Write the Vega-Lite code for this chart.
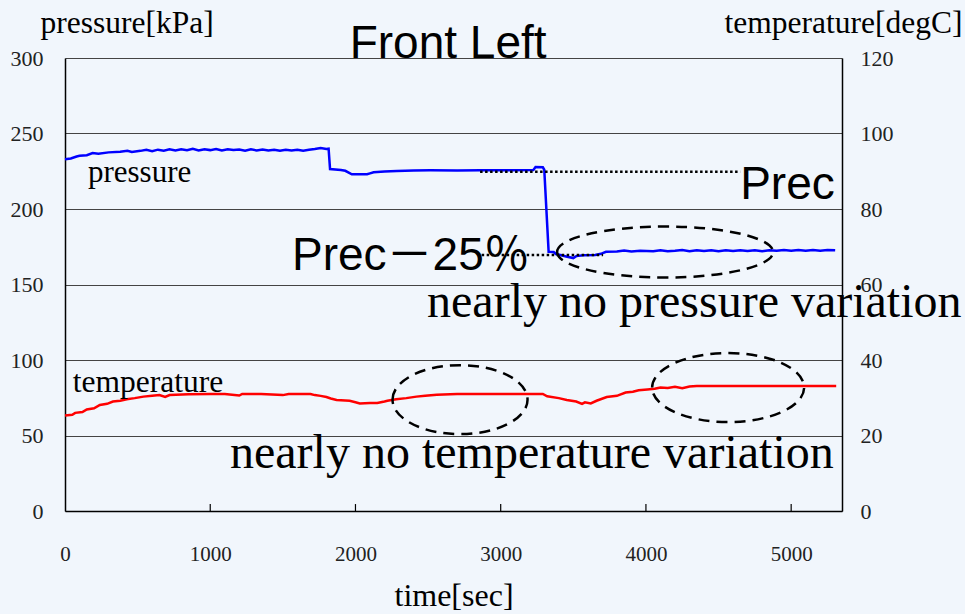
{
  "$schema": "https://vega.github.io/schema/vega-lite/v6.json",
  "width": 777,
  "height": 453,
  "autosize": "none",
  "padding": {"left": 65, "top": 58, "right": 123, "bottom": 103},
  "background": "#f1f6fc",
  "config": {"view": {"stroke": null}, "font": "Liberation Serif"},
  "datasets": {
    "pressure": [
      {"time": 0, "pressure": 233.0}, {"time": 40, "pressure": 233.5}, {"time": 80, "pressure": 234.8},
      {"time": 100, "pressure": 235.3}, {"time": 150, "pressure": 235.6}, {"time": 190, "pressure": 237.0},
      {"time": 230, "pressure": 236.6}, {"time": 300, "pressure": 237.5}, {"time": 380, "pressure": 237.9},
      {"time": 430, "pressure": 238.6}, {"time": 460, "pressure": 237.8}, {"time": 520, "pressure": 238.5},
      {"time": 560, "pressure": 239.2}, {"time": 600, "pressure": 238.3}, {"time": 640, "pressure": 239.3},
      {"time": 680, "pressure": 238.6}, {"time": 720, "pressure": 239.5}, {"time": 760, "pressure": 238.8},
      {"time": 800, "pressure": 239.6}, {"time": 840, "pressure": 238.9}, {"time": 880, "pressure": 239.8},
      {"time": 920, "pressure": 238.7}, {"time": 960, "pressure": 239.6}, {"time": 1000, "pressure": 239.0},
      {"time": 1040, "pressure": 239.7}, {"time": 1080, "pressure": 238.8}, {"time": 1120, "pressure": 239.6},
      {"time": 1160, "pressure": 239.0}, {"time": 1200, "pressure": 239.4}, {"time": 1240, "pressure": 238.6},
      {"time": 1280, "pressure": 239.5}, {"time": 1320, "pressure": 238.8}, {"time": 1360, "pressure": 239.4},
      {"time": 1400, "pressure": 238.7}, {"time": 1440, "pressure": 239.3}, {"time": 1480, "pressure": 238.6},
      {"time": 1520, "pressure": 239.3}, {"time": 1560, "pressure": 238.8}, {"time": 1600, "pressure": 239.3},
      {"time": 1640, "pressure": 238.6}, {"time": 1680, "pressure": 239.2}, {"time": 1720, "pressure": 239.7},
      {"time": 1760, "pressure": 240.4}, {"time": 1800, "pressure": 239.8}, {"time": 1815, "pressure": 240.0},
      {"time": 1825, "pressure": 226.5}, {"time": 1900, "pressure": 225.8}, {"time": 1930, "pressure": 225.3},
      {"time": 1975, "pressure": 223.0}, {"time": 2080, "pressure": 223.0}, {"time": 2100, "pressure": 223.6},
      {"time": 2125, "pressure": 224.3}, {"time": 2200, "pressure": 224.8}, {"time": 2285, "pressure": 225.2},
      {"time": 2400, "pressure": 225.5}, {"time": 2515, "pressure": 225.6}, {"time": 2700, "pressure": 225.5},
      {"time": 2860, "pressure": 225.6}, {"time": 3000, "pressure": 225.7}, {"time": 3225, "pressure": 225.8},
      {"time": 3240, "pressure": 227.8}, {"time": 3290, "pressure": 227.6}, {"time": 3300, "pressure": 226.0},
      {"time": 3330, "pressure": 171.7}, {"time": 3365, "pressure": 171.5}, {"time": 3380, "pressure": 170.2},
      {"time": 3410, "pressure": 169.5}, {"time": 3450, "pressure": 168.6}, {"time": 3500, "pressure": 167.5},
      {"time": 3520, "pressure": 168.8}, {"time": 3570, "pressure": 169.3}, {"time": 3650, "pressure": 169.6},
      {"time": 3690, "pressure": 170.3}, {"time": 3725, "pressure": 171.7}, {"time": 3800, "pressure": 171.8},
      {"time": 3850, "pressure": 172.5}, {"time": 3900, "pressure": 171.9}, {"time": 3960, "pressure": 172.3},
      {"time": 4050, "pressure": 172.0}, {"time": 4100, "pressure": 172.7}, {"time": 4150, "pressure": 172.0},
      {"time": 4200, "pressure": 172.3}, {"time": 4250, "pressure": 172.8}, {"time": 4300, "pressure": 172.1},
      {"time": 4350, "pressure": 172.6}, {"time": 4400, "pressure": 172.2}, {"time": 4450, "pressure": 172.7},
      {"time": 4500, "pressure": 172.1}, {"time": 4550, "pressure": 172.6}, {"time": 4600, "pressure": 172.2},
      {"time": 4650, "pressure": 172.7}, {"time": 4700, "pressure": 172.2}, {"time": 4750, "pressure": 172.6},
      {"time": 4800, "pressure": 172.1}, {"time": 4850, "pressure": 172.7}, {"time": 4900, "pressure": 172.3},
      {"time": 4950, "pressure": 172.8}, {"time": 5000, "pressure": 172.3}, {"time": 5050, "pressure": 172.8},
      {"time": 5100, "pressure": 172.4}, {"time": 5150, "pressure": 172.9}, {"time": 5200, "pressure": 172.4},
      {"time": 5250, "pressure": 172.8}, {"time": 5303, "pressure": 172.6}
    ],
    "temperature": [
      {"time": 0, "temperature": 25.3}, {"time": 50, "temperature": 25.5}, {"time": 70, "temperature": 26.0},
      {"time": 120, "temperature": 26.2}, {"time": 150, "temperature": 26.9}, {"time": 200, "temperature": 27.2},
      {"time": 240, "temperature": 28.1}, {"time": 290, "temperature": 28.4}, {"time": 330, "temperature": 29.0},
      {"time": 380, "temperature": 29.2}, {"time": 425, "temperature": 29.6}, {"time": 480, "temperature": 29.9},
      {"time": 540, "temperature": 30.3}, {"time": 600, "temperature": 30.5}, {"time": 650, "temperature": 30.7},
      {"time": 690, "temperature": 30.2}, {"time": 720, "temperature": 30.7}, {"time": 850, "temperature": 30.9},
      {"time": 1000, "temperature": 31.0}, {"time": 1100, "temperature": 31.0}, {"time": 1200, "temperature": 30.6},
      {"time": 1220, "temperature": 31.0}, {"time": 1350, "temperature": 31.0}, {"time": 1500, "temperature": 30.7},
      {"time": 1540, "temperature": 31.0}, {"time": 1690, "temperature": 31.0}, {"time": 1720, "temperature": 30.7},
      {"time": 1760, "temperature": 30.5}, {"time": 1800, "temperature": 30.2}, {"time": 1830, "temperature": 29.8},
      {"time": 1870, "temperature": 29.4}, {"time": 1960, "temperature": 29.2}, {"time": 2000, "temperature": 28.8},
      {"time": 2030, "temperature": 28.5}, {"time": 2100, "temperature": 28.6}, {"time": 2150, "temperature": 28.6},
      {"time": 2200, "temperature": 29.0}, {"time": 2220, "temperature": 29.2}, {"time": 2280, "temperature": 29.6},
      {"time": 2350, "temperature": 29.9}, {"time": 2420, "temperature": 30.3}, {"time": 2480, "temperature": 30.5},
      {"time": 2560, "temperature": 30.8}, {"time": 2700, "temperature": 31.0}, {"time": 2900, "temperature": 31.0},
      {"time": 3100, "temperature": 31.0}, {"time": 3290, "temperature": 31.0}, {"time": 3320, "temperature": 30.4},
      {"time": 3400, "temperature": 29.9}, {"time": 3455, "temperature": 29.4}, {"time": 3520, "temperature": 29.0},
      {"time": 3560, "temperature": 28.4}, {"time": 3580, "temperature": 28.8}, {"time": 3620, "temperature": 28.5},
      {"time": 3660, "temperature": 29.2}, {"time": 3730, "temperature": 30.2}, {"time": 3800, "temperature": 30.5},
      {"time": 3860, "temperature": 31.4}, {"time": 3910, "temperature": 31.6}, {"time": 3950, "temperature": 32.0},
      {"time": 4010, "temperature": 32.2}, {"time": 4060, "temperature": 32.4}, {"time": 4100, "temperature": 32.7},
      {"time": 4150, "temperature": 32.6}, {"time": 4200, "temperature": 32.9}, {"time": 4250, "temperature": 32.5},
      {"time": 4300, "temperature": 33.0}, {"time": 4350, "temperature": 33.1}, {"time": 4600, "temperature": 33.1},
      {"time": 4900, "temperature": 33.1}, {"time": 5100, "temperature": 33.1}, {"time": 5310, "temperature": 33.1}
    ],
    "refLines": [
      {"label": "Prec", "time": 2858, "time_end": 4649, "pressure": 224.7},
      {"label": "Prec－25％", "time": 2869, "time_end": 3705, "pressure": 169.5}
    ],
    "xTicks": [{"time": 1000}, {"time": 2000}, {"time": 3000}, {"time": 4000}, {"time": 5000}]
  },
  "layer": [
    {
      "layer": [
        {
          "data": {"name": "pressure"},
          "mark": {"type": "line", "color": "#0000ff", "strokeWidth": 2.5},
          "encoding": {
            "x": {"field": "time", "type": "quantitative",
              "scale": {"domain": [0, 5350], "nice": false, "zero": false},
              "axis": {"title": "time[sec]", "values": [0, 1000, 2000, 3000, 4000, 5000], "format": "d",
                "grid": false, "domainColor": "#000", "domainWidth": 1.5, "ticks": false,
                "labelFlush": false, "labelPadding": 32, "labelFontSize": 21, "labelFont": "Liberation Serif", "labelColor": "#222",
                "titleFontSize": 32, "titleFont": "Liberation Serif", "titleFontWeight": "normal", "titleColor": "#000",
                "titleBaseline": "alphabetic", "titleY": 94}},
            "y": {"field": "pressure", "type": "quantitative",
              "scale": {"domain": [0, 300], "nice": false, "zero": true},
              "axis": {"orient": "left", "title": "pressure[kPa]", "values": [0, 50, 100, 150, 200, 250, 300],
                "grid": true, "gridColor": "#444", "gridWidth": 1, "ticks": false, "domainColor": "#000", "domainWidth": 1.5,
                "labelPadding": 22, "labelFontSize": 22, "labelFont": "Liberation Serif", "labelColor": "#222",
                "titleAngle": 0, "titleAlign": "left", "titleBaseline": "alphabetic", "titleX": -25, "titleY": -26,
                "titleFontSize": 31.5, "titleFont": "Liberation Serif", "titleFontWeight": "normal", "titleColor": "#000"}}
          }
        },
        {
          "data": {"name": "xTicks"},
          "mark": {"type": "rule", "color": "#000", "strokeWidth": 1.2},
          "encoding": {
            "x": {"field": "time", "type": "quantitative"},
            "y": {"datum": 0, "type": "quantitative", "scale": {"domain": [0, 300]}},
            "y2": {"datum": 4.6}
          }
        },
        {
          "data": {"name": "refLines"},
          "mark": {"type": "rule", "color": "#000", "strokeWidth": 2.5, "strokeDash": [2.5, 2.5]},
          "encoding": {
            "x": {"field": "time", "type": "quantitative"},
            "x2": {"field": "time_end"},
            "y": {"field": "pressure", "type": "quantitative", "scale": {"domain": [0, 300]}}
          }
        },
        {
          "data": {"values": [{"time": 4132, "pressure": 171.5}]},
          "mark": {"type": "point", "shape": "M-1,0A1,0.236,0,1,1,1,0A1,0.236,0,1,1,-1,0Z", "size": 46656,
            "filled": false, "stroke": "#000", "strokeWidth": 2.5, "strokeDash": [11, 7], "opacity": 1},
          "encoding": {
            "x": {"field": "time", "type": "quantitative"},
            "y": {"field": "pressure", "type": "quantitative", "scale": {"domain": [0, 300]}}
          }
        },
        {
          "data": {"values": [{"text": "pressure", "time": 158, "pressure": 218.1}]},
          "mark": {"type": "text", "font": "Liberation Serif", "fontSize": 31, "align": "left", "baseline": "alphabetic", "color": "#000"},
          "encoding": {
            "x": {"field": "time", "type": "quantitative"},
            "y": {"field": "pressure", "type": "quantitative", "scale": {"domain": [0, 300]}},
            "text": {"field": "text"}
          }
        },
        {
          "data": {"values": [{"text": "nearly no pressure variation", "time": 2493, "pressure": 128.5}]},
          "mark": {"type": "text", "font": "Liberation Serif", "fontSize": 48, "align": "left", "baseline": "alphabetic", "color": "#000"},
          "encoding": {
            "x": {"field": "time", "type": "quantitative"},
            "y": {"field": "pressure", "type": "quantitative", "scale": {"domain": [0, 300]}},
            "text": {"field": "text"}
          }
        },
        {
          "data": {"values": [{"text": "Prec", "time": 4649, "pressure": 206.6}, {"text": "Prec－25％", "time": 1563, "pressure": 159.3}]},
          "mark": {"type": "text", "font": "Liberation Sans, Noto Sans CJK JP", "fontSize": 46, "align": "left", "baseline": "alphabetic", "color": "#000"},
          "encoding": {
            "x": {"field": "time", "type": "quantitative"},
            "y": {"field": "pressure", "type": "quantitative", "scale": {"domain": [0, 300]}},
            "text": {"field": "text"}
          }
        },
        {
          "data": {"values": [{"text": "Front Left", "time": 2638, "pressure": 300}]},
          "mark": {"type": "text", "font": "Liberation Sans", "fontSize": 46, "align": "center", "baseline": "alphabetic", "color": "#000"},
          "encoding": {
            "x": {"field": "time", "type": "quantitative"},
            "y": {"field": "pressure", "type": "quantitative", "scale": {"domain": [0, 300]}},
            "text": {"field": "text"}
          }
        }
      ]
    },
    {
      "layer": [
        {
          "data": {"name": "temperature"},
          "mark": {"type": "line", "color": "#ff0000", "strokeWidth": 2.5},
          "encoding": {
            "x": {"field": "time", "type": "quantitative"},
            "y": {"field": "temperature", "type": "quantitative",
              "scale": {"domain": [0, 120], "nice": false, "zero": true},
              "axis": {"orient": "right", "title": "temperature[degC]", "values": [0, 20, 40, 60, 80, 100, 120],
                "grid": false, "ticks": false, "domainColor": "#000", "domainWidth": 1.5,
                "labelPadding": 18, "labelFontSize": 22, "labelFont": "Liberation Serif", "labelColor": "#222",
                "titleAngle": 0, "titleAlign": "right", "titleBaseline": "alphabetic", "titleX": 120, "titleY": -26,
                "titleFontSize": 31.5, "titleFont": "Liberation Serif", "titleFontWeight": "normal", "titleColor": "#000"}}
          }
        },
        {
          "data": {"values": [{"time": 2720, "temperature": 29.5}]},
          "mark": {"type": "point", "shape": "M-1,0A1,0.511,0,1,1,1,0A1,0.511,0,1,1,-1,0Z", "size": 18225,
            "filled": false, "stroke": "#000", "strokeWidth": 2.5, "strokeDash": [11, 7], "opacity": 1},
          "encoding": {
            "x": {"field": "time", "type": "quantitative"},
            "y": {"field": "temperature", "type": "quantitative", "scale": {"domain": [0, 120]}}
          }
        },
        {
          "data": {"values": [{"time": 4566, "temperature": 32.7}]},
          "mark": {"type": "point", "shape": "M-1,0A1,0.454,0,1,1,1,0A1,0.454,0,1,1,-1,0Z", "size": 23104,
            "filled": false, "stroke": "#000", "strokeWidth": 2.5, "strokeDash": [11, 7], "opacity": 1},
          "encoding": {
            "x": {"field": "time", "type": "quantitative"},
            "y": {"field": "temperature", "type": "quantitative", "scale": {"domain": [0, 120]}}
          }
        },
        {
          "data": {"values": [{"text": "temperature", "time": 53, "temperature": 31.5}]},
          "mark": {"type": "text", "font": "Liberation Serif", "fontSize": 31.5, "align": "left", "baseline": "alphabetic", "color": "#000"},
          "encoding": {
            "x": {"field": "time", "type": "quantitative"},
            "y": {"field": "temperature", "type": "quantitative", "scale": {"domain": [0, 120]}},
            "text": {"field": "text"}
          }
        },
        {
          "data": {"values": [{"text": "nearly no temperature variation", "time": 1136, "temperature": 11.4}]},
          "mark": {"type": "text", "font": "Liberation Serif", "fontSize": 48, "align": "left", "baseline": "alphabetic", "color": "#000"},
          "encoding": {
            "x": {"field": "time", "type": "quantitative"},
            "y": {"field": "temperature", "type": "quantitative", "scale": {"domain": [0, 120]}},
            "text": {"field": "text"}
          }
        }
      ]
    }
  ],
  "resolve": {"scale": {"y": "independent"}, "axis": {"y": "independent"}}
}
